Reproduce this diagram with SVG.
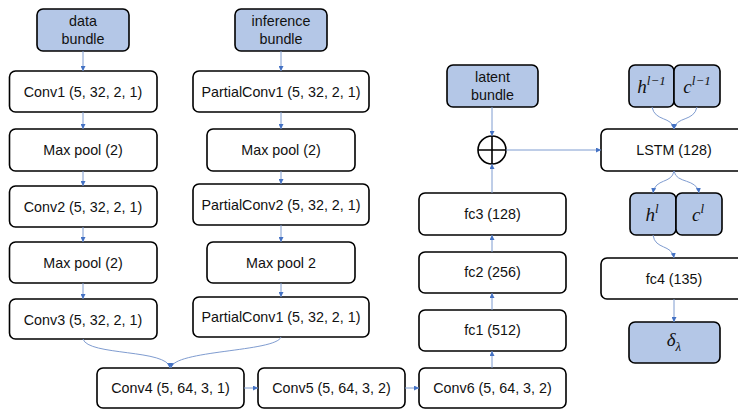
<svg xmlns="http://www.w3.org/2000/svg" width="738" height="409" viewBox="0 0 738 409">
<defs>
<marker id="ah" viewBox="0 0 10 10" refX="10" refY="5" markerWidth="5" markerHeight="5" orient="auto" markerUnits="userSpaceOnUse">
<path d="M0,0 L10,5 L0,10 Z" fill="#4472C4"/>
</marker>
<style>
.b{fill:#ffffff;stroke:#000;stroke-width:1.6}
.bb{fill:#B4C7E7;stroke:#000;stroke-width:1.6}
.t{font-family:"Liberation Sans",Arial,sans-serif;font-size:14.3px;fill:#111;text-anchor:middle}
.m{font-family:"Liberation Serif","DejaVu Serif",serif;font-style:italic;font-size:19px;fill:#111;text-anchor:middle}
.c{fill:none;stroke:#7F9CD0;stroke-width:1;marker-end:url(#ah)}
</style>
</defs>
<rect width="738" height="409" fill="#fff"/>
<g id="data_bundle"><rect class="bb" x="37" y="9" width="92" height="42" rx="6"/><text class="t" x="83" y="26">data</text><text class="t" x="83" y="44">bundle</text></g>
<g id="conv1"><rect class="b" x="9.5" y="71" width="147.5" height="41" rx="6"/><text class="t" x="83" y="97">Conv1 (5, 32, 2, 1)</text></g>
<g id="maxpool1"><rect class="b" x="9.5" y="129" width="147.5" height="42" rx="6"/><text class="t" x="83" y="155">Max pool (2)</text></g>
<g id="conv2"><rect class="b" x="9.5" y="186" width="147.5" height="41" rx="6"/><text class="t" x="83" y="212">Conv2 (5, 32, 2, 1)</text></g>
<g id="maxpool2"><rect class="b" x="9.5" y="242" width="147.5" height="41" rx="6"/><text class="t" x="83" y="268">Max pool (2)</text></g>
<g id="conv3"><rect class="b" x="9.5" y="299" width="147.5" height="40" rx="6"/><text class="t" x="83" y="325">Conv3 (5, 32, 2, 1)</text></g>

<g id="inference_bundle"><rect class="bb" x="235" y="9" width="92" height="42" rx="6"/><text class="t" x="281" y="26">inference</text><text class="t" x="281" y="44">bundle</text></g>
<g id="pconv1"><rect class="b" x="193" y="71" width="176" height="41" rx="6"/><text class="t" x="281" y="97">PartialConv1 (5, 32, 2, 1)</text></g>
<g id="pmaxpool1"><rect class="b" x="207" y="129" width="148" height="42" rx="6"/><text class="t" x="281" y="155">Max pool (2)</text></g>
<g id="pconv2"><rect class="b" x="193" y="184" width="176" height="41" rx="6"/><text class="t" x="281" y="210">PartialConv2 (5, 32, 2, 1)</text></g>
<g id="pmaxpool2"><rect class="b" x="207" y="242" width="148" height="41" rx="6"/><text class="t" x="281" y="268">Max pool 2</text></g>
<g id="pconv3"><rect class="b" x="193" y="297" width="176" height="40" rx="6"/><text class="t" x="281" y="322">PartialConv1 (5, 32, 2, 1)</text></g>

<g id="conv4"><rect class="b" x="97" y="368" width="147" height="40" rx="6"/><text class="t" x="170.5" y="393">Conv4 (5, 64, 3, 1)</text></g>
<g id="conv5"><rect class="b" x="258" y="368" width="147" height="40" rx="6"/><text class="t" x="331.5" y="393">Conv5 (5, 64, 3, 2)</text></g>
<g id="conv6"><rect class="b" x="419" y="368" width="147" height="40" rx="6"/><text class="t" x="492.5" y="393">Conv6 (5, 64, 3, 2)</text></g>

<g id="fc1"><rect class="b" x="419" y="310" width="147" height="41" rx="6"/><text class="t" x="492.5" y="335">fc1 (512)</text></g>
<g id="fc2"><rect class="b" x="419" y="252" width="147" height="41" rx="6"/><text class="t" x="492.5" y="277">fc2 (256)</text></g>
<g id="fc3"><rect class="b" x="419" y="193" width="147" height="42" rx="6"/><text class="t" x="492.5" y="219">fc3 (128)</text></g>

<g id="latent_bundle"><rect class="bb" x="447" y="65" width="91" height="42" rx="6"/><text class="t" x="492.5" y="82">latent</text><text class="t" x="492.5" y="100">bundle</text></g>
<g id="sum"><circle cx="492" cy="150" r="14" fill="#fff" stroke="#000" stroke-width="1.6"/><path d="M478,150 H506 M492,136 V164" stroke="#000" stroke-width="1.6"/></g>

<g id="h_prev"><rect class="bb" x="629" y="65" width="45" height="42" rx="6"/><text class="m" x="651.5" y="93">h<tspan font-size="13" dy="-8">l−1</tspan></text></g>
<g id="c_prev"><rect class="bb" x="674" y="65" width="46" height="42" rx="6"/><text class="m" x="697" y="93">c<tspan font-size="13" dy="-8">l−1</tspan></text></g>
<g id="lstm"><rect class="b" x="601" y="129" width="146" height="42" rx="6"/><text class="t" x="674" y="155">LSTM (128)</text></g>
<g id="h_l"><rect class="bb" x="630" y="193" width="46" height="42" rx="6"/><text class="m" x="652" y="221">h<tspan font-size="13" dy="-8">l</tspan></text></g>
<g id="c_l"><rect class="bb" x="676" y="193" width="46" height="42" rx="6"/><text class="m" x="698" y="221">c<tspan font-size="13" dy="-8">l</tspan></text></g>
<g id="fc4"><rect class="b" x="601" y="258" width="146" height="41" rx="6"/><text class="t" x="674" y="284">fc4 (135)</text></g>
<g id="delta"><rect class="bb" x="629" y="322" width="91" height="41" rx="6"/><text class="m" x="674" y="346">δ<tspan font-size="13" dy="5">λ</tspan></text></g>

<g id="connectors">
<path class="c" d="M83,51 V71"/>
<path class="c" d="M83,112 V129"/>
<path class="c" d="M83,171 V186"/>
<path class="c" d="M83,227 V242"/>
<path class="c" d="M83,283 V299"/>
<path class="c" d="M281,51 V71"/>
<path class="c" d="M281,112 V129"/>
<path class="c" d="M281,171 V184"/>
<path class="c" d="M281,225 V242"/>
<path class="c" d="M281,283 V297"/>
<path class="c" d="M83,339 C88,356 168,349 170,368"/>
<path class="c" d="M281,337 C276,352 173,350 171,368"/>
<path class="c" d="M244,388 H258"/>
<path class="c" d="M405,388 H419"/>
<path class="c" d="M492,368 V351"/>
<path class="c" d="M492,310 V293"/>
<path class="c" d="M492,252 V235"/>
<path class="c" d="M492,193 V164"/>
<path class="c" d="M492,107 V136"/>
<path class="c" d="M506,150 H601"/>
<path class="c" d="M652,107 C655,122 672,116 674,129"/>
<path class="c" d="M697,107 C694,122 676,116 674,129"/>
<path class="c" d="M674,171 C672,184 655,178 653,193"/>
<path class="c" d="M674,171 C676,184 697,178 699,193"/>
<path class="c" d="M653,235 C655,250 672,244 674,258"/>
<path class="c" d="M674,299 V322"/>
</g>
</svg>
